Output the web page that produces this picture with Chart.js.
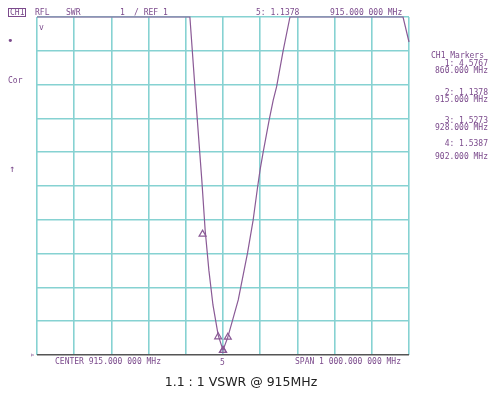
<!DOCTYPE html>
<html>
<head>
<meta charset="utf-8">
<script src="https://cdn.jsdelivr.net/npm/chart.js@4.4.1/dist/chart.umd.min.js"></script>
<style>
  html, body { margin: 0; padding: 0; background: #fff; }
  #wrap { position: relative; width: 500px; height: 396px; overflow: hidden; }
  #chartCanvas { position: absolute; left: 0; top: 0; }
  .t { position: absolute; font-family: "DejaVu Sans Mono", monospace; font-size: 8px; color: #7b4a8c; white-space: pre; line-height: 8px; }
  .r { text-align: right; width: 70px; }
  #caption { position: absolute; left: 0; width: 482px; top: 374px; text-align: center;
             font-family: "DejaVu Sans", Verdana, sans-serif; font-size: 12.5px; color: #222; }
</style>
</head>
<body>
<div id="wrap">
  <canvas id="chartCanvas" width="500" height="396"></canvas>

  <!-- header line -->
  <span class="t" style="left:8px;top:8px;border:1px solid #7b4a8c;padding:0 1px;line-height:7px;">CH1</span>
  <span class="t" style="left:35px;top:9px;">RFL</span>
  <span class="t" style="left:66px;top:9px;">SWR</span>
  <span class="t" style="left:120px;top:9px;">1</span>
  <span class="t" style="left:134px;top:9px;">/ REF 1</span>
  <span class="t" style="left:256px;top:9px;">5: 1.1378</span>
  <span class="t" style="left:330px;top:9px;">915.000 000 MHz</span>

  <!-- left side flags -->
  <span class="t" style="left:7px;top:37px;font-size:11px;">&#8226;</span>
  <span class="t" style="left:8px;top:77px;">Cor</span>
  <span class="t" style="left:9px;top:165px;font-size:10px;">&#8593;</span>
  <span class="t" style="left:39px;top:24px;">v</span>

  <!-- marker table -->
  <span class="t" style="left:431px;top:52px;">CH1 Markers</span>
  <span class="t r" style="left:418px;top:60px;">1: 4.5767</span>
  <span class="t r" style="left:418px;top:67px;">860.000 MHz</span>
  <span class="t r" style="left:418px;top:89px;">2: 1.1378</span>
  <span class="t r" style="left:418px;top:96px;">915.000 MHz</span>
  <span class="t r" style="left:418px;top:117px;">3: 1.5273</span>
  <span class="t r" style="left:418px;top:124px;">928.000 MHz</span>
  <span class="t r" style="left:418px;top:140px;">4: 1.5387</span>
  <span class="t r" style="left:418px;top:153px;">902.000 MHz</span>

  <!-- footer -->
  <span class="t" style="left:30px;top:351px;">&#9657;</span>
  <span class="t" style="left:55px;top:358px;">CENTER 915.000 000 MHz</span>
  <span class="t" style="left:220px;top:359px;">5</span>
  <span class="t" style="left:295px;top:358px;">SPAN 1 000.000 000 MHz</span>

  <div id="caption">1.1 : 1 VSWR @ 915MHz</div>
</div>

<script>
// sweep (MHz) and SWR; top of screen (11) = clipped trace
const freqs = [415, 826, 842, 858, 867, 877, 888, 902, 915, 928, 956, 981, 996, 1008, 1015, 1023, 1039, 1050, 1059, 1077, 1095, 1399, 1415];
const swr   = [11, 11, 8.54, 6.18, 4.70, 3.51, 2.48, 1.59, 1.14, 1.53, 2.63, 4.02, 4.99, 5.97, 6.50, 7.00, 7.95, 8.54, 8.93, 10.02, 11, 11, 10.26];

// markers 1..5
const markerFreqs = [860, 915, 928, 902, 915];
const markerVals  = [4.5767, 1.1378, 1.5273, 1.5387, 1.1378];

// axes: center 915 MHz, span 1000 MHz, 1 / div, ref 1 at bottom
const freqMin = 415;
const freqMax = 1415;
const swrMin = 1;
const swrMax = 11;

const gridColor = '#86d2d2';
const traceColor = '#8a5a96';

const ctx = document.getElementById('chartCanvas').getContext('2d');

new Chart(ctx, {
  type: 'scatter',
  data: {
    datasets: [{
      label: 'SWR',
      data: freqs.map((f, i) => ({ x: f, y: swr[i] })),
      showLine: true,
      borderColor: traceColor,
      borderWidth: 1.2,
      pointRadius: 0,
      tension: 0,
      clip: 4,
      order: 1
    }, {
      label: 'Markers',
      data: markerFreqs.map((f, i) => ({ x: f, y: markerVals[i] })),
      showLine: false,
      pointStyle: 'triangle',
      pointRadius: 4,
      borderColor: traceColor,
      borderWidth: 1.2,
      backgroundColor: 'rgba(0,0,0,0)',
      order: 0
    }]
  },
  options: {
    responsive: false,
    animation: false,
    layout: {
      padding: { left: 37, right: 91, top: 17, bottom: 41 }
    },
    plugins: {
      legend: { display: false },
      tooltip: { enabled: false },
      title: { display: false }
    },
    scales: {
      x: {
        type: 'linear',
        min: freqMin,
        max: freqMax,
        ticks: { display: false, stepSize: 100 },
        grid: { color: gridColor, lineWidth: 1.6, drawTicks: false },
        border: { display: false }
      },
      y: {
        min: swrMin,
        max: swrMax,
        ticks: { display: false, stepSize: 1 },
        grid: {
          color: c => c.tick && c.tick.value === swrMin ? '#555555' : gridColor,
          lineWidth: c => c.tick && c.tick.value === swrMin ? 1.4 : 1.6,
          drawTicks: false
        },
        border: { display: false }
      }
    }
  }
});
</script>
</body>
</html>
